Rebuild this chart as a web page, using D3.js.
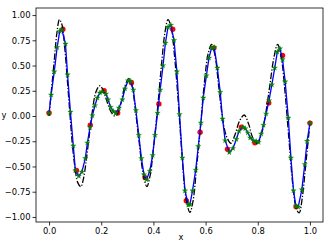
<!DOCTYPE html>
<html>
<head>
<meta charset="utf-8">
<script src="https://cdn.jsdelivr.net/npm/d3@7"></script>
<style>
    body { margin: 0; background: #fff; }
    svg { display: block; }
    text { font-family: "DejaVu Sans", sans-serif; }
</style>
</head>
<body>
<svg id="chart" width="332" height="242"></svg>
<script>
// true function (black dash-dot)
const trueX = [0.000, 0.010, 0.020, 0.030, 0.040, 0.050, 0.060, 0.070, 0.080, 0.090,
    0.100, 0.110, 0.122, 0.132, 0.142, 0.152, 0.165, 0.180, 0.195, 0.210,
    0.225, 0.240, 0.252, 0.262, 0.275, 0.290, 0.306, 0.318, 0.330, 0.345,
    0.360, 0.375, 0.388, 0.400, 0.415, 0.430, 0.445, 0.456, 0.468, 0.480,
    0.495, 0.510, 0.525, 0.540, 0.552, 0.565, 0.580, 0.595, 0.610, 0.623,
    0.636, 0.650, 0.665, 0.680, 0.697, 0.712, 0.730, 0.748, 0.765, 0.780,
    0.798, 0.815, 0.830, 0.845, 0.862, 0.876, 0.890, 0.905, 0.920, 0.935,
    0.948, 0.959, 0.970, 0.985, 1.000];
const trueY = [0.00, 0.28, 0.55, 0.82, 0.955, 0.90, 0.68, 0.36, 0.02, -0.30,
    -0.52, -0.66, -0.70, -0.62, -0.45, -0.24, 0.03, 0.24, 0.30, 0.24,
    0.12, 0.03, 0.00, 0.02, 0.12, 0.29, 0.37, 0.30, 0.08, -0.25,
    -0.56, -0.70, -0.58, -0.32, 0.05, 0.48, 0.84, 0.955, 0.88, 0.62,
    0.15, -0.40, -0.82, -0.955, -0.84, -0.52, -0.12, 0.32, 0.62, 0.71,
    0.60, 0.30, -0.02, -0.20, -0.27, -0.19, -0.05, 0.01, -0.08, -0.21,
    -0.27, -0.17, 0.02, 0.28, 0.58, 0.71, 0.58, 0.22, -0.25, -0.70,
    -0.92, -0.96, -0.82, -0.45, -0.07];

// sampled points (red dots)
const dataX = [0.000, 0.053, 0.105, 0.158, 0.211, 0.263, 0.316, 0.368, 0.421, 0.474,
    0.526, 0.579, 0.632, 0.684, 0.737, 0.789, 0.842, 0.895, 0.947, 1.000];
const dataY = [0.03, 0.86, -0.54, -0.09, 0.25, 0.03, 0.33, -0.61, 0.12, 0.86,
    -0.84, -0.16, 0.675, -0.33, -0.11, -0.265, 0.13, 0.60, -0.90, -0.07];

// predicted curve (blue line with green stars)
const predX = [0.000, 0.008, 0.020, 0.031, 0.041, 0.049, 0.063, 0.071, 0.082, 0.093,
    0.101, 0.114, 0.126, 0.139, 0.147, 0.157, 0.166, 0.176, 0.185, 0.195,
    0.204, 0.218, 0.226, 0.236, 0.246, 0.255, 0.268, 0.281, 0.291, 0.303,
    0.313, 0.323, 0.333, 0.344, 0.354, 0.364, 0.374, 0.386, 0.397, 0.406,
    0.416, 0.426, 0.437, 0.446, 0.456, 0.467, 0.479, 0.490, 0.500, 0.511,
    0.521, 0.534, 0.540, 0.550, 0.562, 0.572, 0.582, 0.591, 0.603, 0.613,
    0.623, 0.633, 0.645, 0.656, 0.665, 0.675, 0.691, 0.705, 0.718, 0.728,
    0.743, 0.752, 0.762, 0.771, 0.783, 0.794, 0.803, 0.813, 0.822, 0.832,
    0.843, 0.854, 0.865, 0.875, 0.885, 0.895, 0.905, 0.917, 0.927, 0.937,
    0.946, 0.955, 0.969, 0.980, 0.989, 1.000];
const predY = [0.03, 0.21, 0.44, 0.68, 0.84, 0.857, 0.715, 0.41, 0.04, -0.295,
    -0.54, -0.595, -0.553, -0.42, -0.265, -0.113, 0.005, 0.104, 0.18, 0.23,
    0.24, 0.22, 0.163, 0.088, 0.048, 0.029, 0.08, 0.163, 0.27, 0.35,
    0.345, 0.26, 0.055, -0.19, -0.42, -0.58, -0.63, -0.545, -0.39, -0.19,
    0.03, 0.26, 0.50, 0.725, 0.88, 0.90, 0.75, 0.44, 0.015, -0.414,
    -0.74, -0.88, -0.876, -0.74, -0.535, -0.30, -0.067, 0.18, 0.40, 0.576,
    0.675, 0.68, 0.477, 0.237, -0.028, -0.243, -0.36, -0.32, -0.23, -0.15,
    -0.11, -0.124, -0.166, -0.216, -0.245, -0.25, -0.26, -0.176, -0.09, 0.022,
    0.153, 0.31, 0.477, 0.635, 0.668, 0.56, 0.34, -0.018, -0.414, -0.74,
    -0.89, -0.90, -0.73, -0.48, -0.25, -0.07];

const xTicks = [0.0, 0.2, 0.4, 0.6, 0.8, 1.0];
const xTickLabels = ["0.0", "0.2", "0.4", "0.6", "0.8", "1.0"];
const yTicks = [-1.0, -0.75, -0.5, -0.25, 0.0, 0.25, 0.5, 0.75, 1.0];
const yTickLabels = ["\u22121.00", "\u22120.75", "\u22120.50", "\u22120.25", "0.00", "0.25", "0.50", "0.75", "1.00"];

function drawChart() {
    const svg = d3.select("#chart");
    const left = 36, right = 323, top = 8, bottom = 222;

    const x = d3.scaleLinear().domain([-0.05, 1.05]).range([left, right]);
    const y = d3.scaleLinear().domain([-1.05, 1.07]).range([bottom, top]);

    // axes
    const xAxis = svg.append("g")
        .attr("transform", `translate(0,${bottom})`)
        .call(d3.axisBottom(x).tickValues(xTicks)
            .tickFormat((d, i) => xTickLabels[i])
            .tickSize(3.5).tickPadding(2.5));
    const yAxis = svg.append("g")
        .attr("transform", `translate(${left},0)`)
        .call(d3.axisLeft(y).tickValues(yTicks)
            .tickFormat((d, i) => yTickLabels[i])
            .tickSize(3.5).tickPadding(2));

    [xAxis, yAxis].forEach(a => {
        a.select(".domain").remove();
        a.selectAll("line").attr("stroke", "#000").attr("stroke-width", 0.8);
        a.selectAll("text").attr("fill", "#000").attr("font-size", "8.4px")
            .attr("font-family", "DejaVu Sans");
    });

    // plot content clipped to the axes box
    svg.append("clipPath").attr("id", "clip")
        .append("rect")
        .attr("x", left).attr("y", top)
        .attr("width", right - left).attr("height", bottom - top);
    const g = svg.append("g").attr("clip-path", "url(#clip)");

    // red dots
    g.selectAll("circle.data")
        .data(dataX.map((d, i) => [d, dataY[i]]))
        .enter()
        .append("circle")
        .attr("class", "data")
        .attr("cx", d => x(d[0]))
        .attr("cy", d => y(d[1]))
        .attr("r", 2.7)
        .attr("fill", "#ff0000");

    // true function, dash-dot
    const trueLine = d3.line()
        .x(d => x(d[0]))
        .y(d => y(d[1]))
        .curve(d3.curveCatmullRom.alpha(0.5));
    g.append("path")
        .datum(trueX.map((d, i) => [d, trueY[i]]))
        .attr("d", trueLine)
        .attr("fill", "none")
        .attr("stroke", "#000")
        .attr("stroke-width", 1.3)
        .attr("stroke-dasharray", "6.5,1.8,1.2,1.8");

    // prediction, blue line
    const predPts = predX.map((d, i) => [d, predY[i]]);
    const predLine = d3.line()
        .x(d => x(d[0]))
        .y(d => y(d[1]));
    g.append("path")
        .datum(predPts)
        .attr("d", predLine)
        .attr("fill", "none")
        .attr("stroke", "#0000ff")
        .attr("stroke-width", 1.3);

    // green stars
    const star = d3.symbol().type(d3.symbolStar).size(9);
    g.selectAll("path.star")
        .data(predPts)
        .enter()
        .append("path")
        .attr("class", "star")
        .attr("transform", d => `translate(${x(d[0])},${y(d[1])})`)
        .attr("d", star)
        .attr("fill", "#008000")
        .attr("stroke", "#008000")
        .attr("stroke-width", 0.3);

    // frame
    svg.append("rect")
        .attr("x", left).attr("y", top)
        .attr("width", right - left).attr("height", bottom - top)
        .attr("fill", "none")
        .attr("stroke", "#000")
        .attr("stroke-width", 0.8);

    // axis labels
    svg.append("text")
        .attr("x", 181).attr("y", 240)
        .attr("text-anchor", "middle")
        .attr("font-size", "8.4px")
        .text("x");
    svg.append("text")
        .attr("x", 4).attr("y", 118)
        .attr("text-anchor", "middle")
        .attr("font-size", "8.4px")
        .text("y");
}

drawChart();
</script>
</body>
</html>
